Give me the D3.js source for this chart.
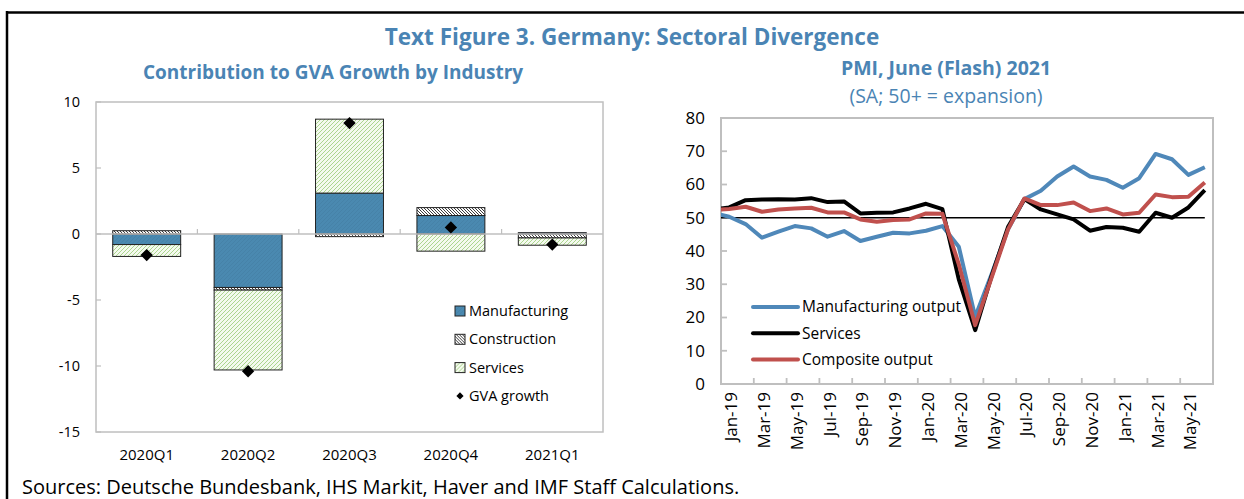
<!DOCTYPE html>
<html>
<head>
<meta charset="utf-8">
<script src="https://cdn.jsdelivr.net/npm/d3@7"></script>
<style>
  body { margin: 0; background: #fff; }
  svg text { font-family: "Open Sans", "Noto Sans", sans-serif; }
</style>
</head>
<body>
<div id="chart"></div>
<script>
// ---- left panel: contribution to GVA growth (percentage points) ----
const quarters = ["2020Q1", "2020Q2", "2020Q3", "2020Q4", "2021Q1"];
const manufacturing = [-0.8, -4.05, 3.1, 1.4, 0.1];
const construction = [0.25, -0.2, -0.2, 0.6, -0.3];
const services = [-0.9, -6.05, 5.6, -1.3, -0.55];
const gvaGrowth = [-1.6, -10.4, 8.4, 0.5, -0.8];
const gvaTicks = [10, 5, 0, -5, -10, -15];

// ---- right panel: PMI (Dec-18 sits just left of the axis and gets clipped) ----
const pmiMonths = ["Dec-18",
  "Jan-19", "Feb-19", "Mar-19", "Apr-19", "May-19", "Jun-19", "Jul-19", "Aug-19", "Sep-19", "Oct-19", "Nov-19", "Dec-19",
  "Jan-20", "Feb-20", "Mar-20", "Apr-20", "May-20", "Jun-20", "Jul-20", "Aug-20", "Sep-20", "Oct-20", "Nov-20", "Dec-20",
  "Jan-21", "Feb-21", "Mar-21", "Apr-21", "May-21", "Jun-21"];
const manufacturingOutput = [51.5,
  50.3, 48.1, 44.0, 45.8, 47.5, 46.8, 44.3, 46.0, 43.0, 44.3, 45.5, 45.3,
  46.1, 47.5, 41.3, 20.2, 33.0, 46.5, 55.6, 58.1, 62.4, 65.4, 62.4, 61.4,
  59.0, 61.9, 69.2, 67.6, 62.9, 65.2];
const servicesPmi = [52.5,
  53.1, 55.3, 55.5, 55.6, 55.5, 55.9, 54.7, 54.9, 51.3, 51.5, 51.6, 52.8,
  54.2, 52.6, 31.5, 16.2, 32.5, 47.2, 55.6, 52.5, 51.0, 49.5, 46.1, 47.2,
  47.0, 45.8, 51.5, 50.0, 53.1, 58.3];
const compositeOutput = [52.3,
  52.6, 53.3, 51.8, 52.5, 52.8, 53.0, 51.6, 51.6, 49.5, 48.8, 49.3, 49.5,
  51.3, 51.2, 36.0, 17.7, 32.0, 46.5, 55.8, 53.8, 53.8, 54.6, 52.0, 52.8,
  51.0, 51.5, 57.0, 56.2, 56.3, 60.6];
const pmiTicks = [0, 10, 20, 30, 40, 50, 60, 70, 80];
const expansionLine = 50;

const W = 1244, H = 499;
const titleBlue = "#4a84b4";
const gridGray = "#bfbfbf";
const blue = "#4a89b0";

const svg = d3.select("#chart").append("svg")
    .attr("width", W).attr("height", H);

const defs = svg.append("defs");
// hatch patterns
const pServ = defs.append("pattern").attr("id", "pat-serv")
    .attr("patternUnits", "userSpaceOnUse").attr("width", 4).attr("height", 4);
pServ.append("rect").attr("width", 4).attr("height", 4).attr("fill", "#f4faee");
pServ.append("path").attr("d", "M-1,1 l2,-2 M0,4 l4,-4 M3,5 l2,-2")
    .attr("stroke", "#8cc665").attr("stroke-width", 0.7);

const pCons = defs.append("pattern").attr("id", "pat-cons")
    .attr("patternUnits", "userSpaceOnUse").attr("width", 3).attr("height", 3);
pCons.append("rect").attr("width", 3).attr("height", 3).attr("fill", "#fff");
pCons.append("path").attr("d", "M-1,-1 l2,2 M0,0 l3,3 M2,2 l2,2")
    .attr("stroke", "#333").attr("stroke-width", 0.9);

const pMan = defs.append("pattern").attr("id", "pat-man")
    .attr("patternUnits", "userSpaceOnUse").attr("width", 4).attr("height", 4);
pMan.append("rect").attr("width", 4).attr("height", 4).attr("fill", blue);
pMan.append("path").attr("d", "M-1,1 l2,-2 M0,4 l4,-4 M3,5 l2,-2")
    .attr("stroke", "#437ea3").attr("stroke-width", 0.6);

// frame
svg.append("line").attr("x1", 7).attr("x2", W).attr("y1", 12.5).attr("y2", 12.5)
    .attr("stroke", "#000").attr("stroke-width", 2.5);
svg.append("line").attr("x1", 7).attr("x2", 7).attr("y1", 11).attr("y2", H)
    .attr("stroke", "#000").attr("stroke-width", 2.5);

// titles
svg.append("text").attr("x", 632).attr("y", 45).attr("text-anchor", "middle")
    .attr("font-size", 22.5).attr("font-weight", 700).attr("fill", titleBlue)
    .text("Text Figure 3. Germany: Sectoral Divergence");
svg.append("text").attr("x", 333).attr("y", 79).attr("text-anchor", "middle")
    .attr("font-size", 19).attr("font-weight", 700).attr("fill", titleBlue)
    .text("Contribution to GVA Growth by Industry");
svg.append("text").attr("x", 946).attr("y", 75).attr("text-anchor", "middle")
    .attr("font-size", 19.5).attr("font-weight", 700).attr("fill", titleBlue)
    .text("PMI, June (Flash) 2021");
svg.append("text").attr("x", 946).attr("y", 103).attr("text-anchor", "middle")
    .attr("font-size", 19.5).attr("fill", titleBlue)
    .text("(SA; 50+ = expansion)");

svg.append("text").attr("x", 22).attr("y", 494)
    .attr("font-size", 20).attr("fill", "#000")
    .text("Sources: Deutsche Bundesbank, IHS Markit, Haver and IMF Staff Calculations.");

//---- canvas 1: stacked bars ----
const L = { left: 96, right: 603, top: 102, bottom: 432 };
const xQ = d3.scaleBand().domain(quarters).range([L.left, L.right])
    .paddingInner(0.33).paddingOuter(0.165);
const yG = d3.scaleLinear().domain([-15, 10]).range([L.bottom, L.top]);

const g1 = svg.append("g");
g1.append("rect").attr("x", L.left).attr("y", L.top)
    .attr("width", L.right - L.left).attr("height", L.bottom - L.top)
    .attr("fill", "none").attr("stroke", gridGray).attr("stroke-width", 1.5);

// y ticks (inside) + labels
g1.selectAll(".ytick").data(gvaTicks).join("line")
    .attr("x1", L.left).attr("x2", L.left + 5)
    .attr("y1", d => yG(d)).attr("y2", d => yG(d))
    .attr("stroke", gridGray).attr("stroke-width", 1.2);
g1.selectAll(".ylab").data(gvaTicks).join("text")
    .attr("x", 80).attr("y", d => yG(d)).attr("dy", "0.35em")
    .attr("text-anchor", "end").attr("font-size", 14.5).attr("fill", "#000")
    .text(d => d);

const rows = quarters.map((q, i) => ({
    q, manufacturing: manufacturing[i], construction: construction[i], services: services[i]
}));
const keys = ["manufacturing", "construction", "services"];
const fills = { manufacturing: "url(#pat-man)", construction: "url(#pat-cons)", services: "url(#pat-serv)" };
const series = d3.stack().keys(keys).offset(d3.stackOffsetDiverging)(rows);

g1.selectAll(".layer").data(series).join("g")
    .attr("fill", d => fills[d.key])
    .selectAll("rect").data(d => d).join("rect")
    .attr("x", d => xQ(d.data.q))
    .attr("width", xQ.bandwidth())
    .attr("y", d => yG(Math.max(d[0], d[1])))
    .attr("height", d => Math.abs(yG(d[0]) - yG(d[1])))
    .attr("stroke", "#222").attr("stroke-width", 1);

// zero line with category ticks
g1.append("line").attr("x1", L.left).attr("x2", L.right)
    .attr("y1", yG(0)).attr("y2", yG(0))
    .attr("stroke", gridGray).attr("stroke-width", 1.5);
const bounds = quarters.slice(1).map(q => xQ(q) - xQ.step() * xQ.paddingInner() / 2);
g1.selectAll(".xtick").data(bounds).join("line")
    .attr("x1", d => d).attr("x2", d => d)
    .attr("y1", yG(0)).attr("y2", yG(0) - 5)
    .attr("stroke", gridGray).attr("stroke-width", 1.2);

g1.selectAll(".xlab").data(quarters).join("text")
    .attr("x", d => xQ(d) + xQ.bandwidth() / 2).attr("y", 455).attr("dy", "0.35em")
    .attr("text-anchor", "middle").attr("font-size", 15).attr("fill", "#000")
    .text(d => d);

const diamond = d3.symbol().type(d3.symbolSquare).size(76);
g1.selectAll(".gva").data(gvaGrowth).join("path")
    .attr("d", diamond)
    .attr("transform", (d, i) => `translate(${xQ(quarters[i]) + xQ.bandwidth() / 2},${yG(d)}) rotate(45)`)
    .attr("fill", "#000");

// legend
const legend1 = [
    { label: "Manufacturing", fill: "url(#pat-man)" },
    { label: "Construction", fill: "url(#pat-cons)" },
    { label: "Services", fill: "url(#pat-serv)" },
    { label: "GVA growth", fill: null }
];
const lg1 = g1.selectAll(".leg").data(legend1).join("g")
    .attr("transform", (d, i) => `translate(455,${311 + i * 28.3})`);
lg1.filter(d => d.fill).append("rect")
    .attr("x", 0).attr("y", -5).attr("width", 10).attr("height", 10)
    .attr("fill", d => d.fill).attr("stroke", "#222").attr("stroke-width", 1);
lg1.filter(d => !d.fill).append("path")
    .attr("d", d3.symbol().type(d3.symbolSquare).size(26))
    .attr("transform", "translate(5,0) rotate(45)").attr("fill", "#000");
lg1.append("text").attr("x", 14).attr("dy", "0.35em")
    .attr("font-size", 14.5).attr("fill", "#000").text(d => d.label);

//---- canvas 2: PMI lines ----
const R = { left: 721, right: 1213, top: 118, bottom: 384 };
// index 0 = Jan-19, Dec-18 = -1
const xM = d3.scaleLinear().domain([-0.5, 29.5]).range([R.left, R.right]);
const yP = d3.scaleLinear().domain([0, 80]).range([R.bottom, R.top]);

const g2 = svg.append("g");
defs.append("clipPath").attr("id", "clip-pmi").append("rect")
    .attr("x", R.left).attr("y", R.top - 5).attr("width", R.right - R.left).attr("height", R.bottom - R.top + 10);

g2.append("rect").attr("x", R.left).attr("y", R.top)
    .attr("width", R.right - R.left).attr("height", R.bottom - R.top)
    .attr("fill", "none").attr("stroke", gridGray).attr("stroke-width", 2);

g2.selectAll(".ytick").data(pmiTicks).join("line")
    .attr("x1", R.left).attr("x2", R.left + 6)
    .attr("y1", d => yP(d)).attr("y2", d => yP(d))
    .attr("stroke", gridGray).attr("stroke-width", 1.8);
g2.selectAll(".ylab").data(pmiTicks).join("text")
    .attr("x", 705).attr("y", d => yP(d)).attr("dy", "0.35em")
    .attr("text-anchor", "end").attr("font-size", 17).attr("fill", "#000")
    .text(d => d);

const shown = pmiMonths.slice(1);
const tickIdx = shown.map((m, i) => i).filter(i => i % 2 === 1 && i < 29).map(i => i + 0.5);
g2.selectAll(".xtick").data(tickIdx).join("line")
    .attr("x1", d => xM(d)).attr("x2", d => xM(d))
    .attr("y1", R.bottom).attr("y2", R.bottom - 6)
    .attr("stroke", gridGray).attr("stroke-width", 1.8);
g2.selectAll(".xlab").data(shown.filter((m, i) => i % 2 === 0)).join("text")
    .attr("transform", d => `translate(${xM(shown.indexOf(d)) + 2},392) rotate(-90)`)
    .attr("dy", "0.35em").attr("text-anchor", "end")
    .attr("font-size", 17).attr("fill", "#000")
    .text(d => d);

const lineGen = d3.line().x((d, i) => xM(i - 1)).y(d => yP(d));
const plot = g2.append("g").attr("clip-path", "url(#clip-pmi)");
plot.append("path").datum(pmiMonths.map(() => expansionLine))
    .attr("d", lineGen).attr("fill", "none").attr("stroke", "#000").attr("stroke-width", 1.5);

const pmiSeries = [
    { label: "Manufacturing output", values: manufacturingOutput, color: "#4f88b9" },
    { label: "Services", values: servicesPmi, color: "#000" },
    { label: "Composite output", values: compositeOutput, color: "#c0504d" }
];
plot.selectAll(".pmi").data(pmiSeries).join("path")
    .attr("d", d => lineGen(d.values))
    .attr("fill", "none").attr("stroke", d => d.color)
    .attr("stroke-width", 4).attr("stroke-linejoin", "round");

const lg2 = g2.selectAll(".leg").data(pmiSeries).join("g")
    .attr("transform", (d, i) => `translate(753,${307 + i * 26.3})`);
lg2.append("line").attr("x1", 0).attr("x2", 45)
    .attr("stroke", d => d.color).attr("stroke-width", 4).attr("stroke-linecap", "round");
lg2.append("text").attr("x", 49).attr("dy", "0.35em")
    .attr("font-size", 15.5).attr("fill", "#000").text(d => d.label);
</script>
</body>
</html>
